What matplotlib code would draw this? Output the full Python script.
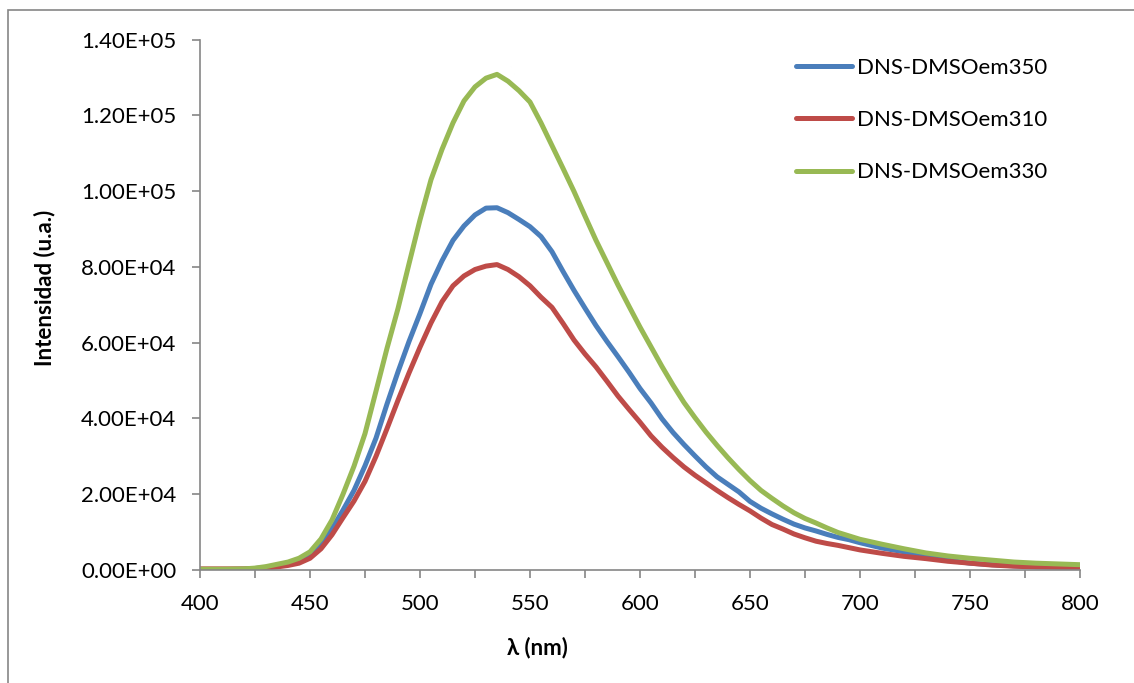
import matplotlib
matplotlib.use("Agg")
import matplotlib.pyplot as plt
from matplotlib.ticker import FuncFormatter, MultipleLocator
from matplotlib.patches import Rectangle

plt.rcParams['font.family'] = ['Lato', 'DejaVu Sans']

# wavelength (nm) and intensity readings (x1000 u.a.)
wl = [400, 410, 420, 425, 430, 435, 440, 445, 450, 455, 460, 465, 470, 475, 480,
      485, 490, 495, 500, 505, 510, 515, 520, 525, 530, 535, 540, 545, 550, 555,
      560, 565, 570, 575, 580, 585, 590, 595, 600, 605, 610, 615, 620, 625, 630,
      635, 640, 645, 650, 655, 660, 665, 670, 675, 680, 685, 690, 695, 700,
      710, 720, 730, 740, 750, 760, 770, 780, 790, 800]

em350 = [0.1, 0.1, 0.2, 0.4, 0.7, 1.2, 1.7, 2.5, 3.8, 6.8, 10.9, 15.8, 21.0, 27.5, 34.8,
         43.8, 52.3, 60.3, 67.7, 75.4, 81.6, 87.0, 90.8, 93.7, 95.5, 95.6, 94.3, 92.5, 90.6, 88.0,
         84.0, 78.8, 73.8, 69.1, 64.5, 60.3, 56.3, 52.2, 47.9, 44.1, 39.9, 36.3, 33.1, 30.1, 27.2,
         24.6, 22.6, 20.6, 18.1, 16.3, 14.8, 13.4, 12.1, 11.1, 10.3, 9.4, 8.6, 8.0, 7.2,
         5.8, 4.8, 3.6, 2.6, 1.8, 1.4, 1.1, 0.9, 0.8, 0.8]

em310 = [0.3, 0.3, 0.3, 0.3, 0.5, 0.8, 1.2, 1.8, 3.1, 5.6, 9.3, 13.8, 18.2, 23.4, 30.0,
         37.3, 44.8, 52.0, 58.8, 65.2, 70.8, 75.0, 77.6, 79.3, 80.2, 80.6, 79.3, 77.4, 75.0, 72.0,
         69.3, 65.1, 60.7, 57.0, 53.6, 49.8, 45.9, 42.4, 39.0, 35.4, 32.4, 29.7, 27.2, 25.0, 23.0,
         21.0, 19.1, 17.3, 15.6, 13.7, 12.0, 10.8, 9.5, 8.5, 7.6, 7.0, 6.5, 5.9, 5.3,
         4.4, 3.6, 3.0, 2.3, 1.8, 1.3, 1.0, 0.8, 0.7, 0.6]

em330 = [0.2, 0.2, 0.3, 0.5, 0.9, 1.5, 2.1, 3.1, 4.8, 8.2, 13.2, 20.0, 27.4, 36.0, 47.2,
         58.5, 69.0, 80.8, 92.4, 103.0, 111.0, 118.0, 123.8, 127.5, 129.8, 130.8, 129.0, 126.5, 123.5, 118.0,
         112.0, 106.0, 99.9, 93.4, 87.0, 81.1, 75.2, 69.6, 64.1, 58.9, 53.7, 48.8, 44.2, 40.2, 36.4,
         32.9, 29.6, 26.5, 23.6, 21.0, 18.9, 16.9, 15.1, 13.6, 12.4, 11.1, 9.9, 9.0, 8.1,
         6.8, 5.6, 4.5, 3.7, 3.1, 2.6, 2.1, 1.8, 1.6, 1.4]

series = [("DNS-DMSOem350", em350, "#4A7EBB"),
          ("DNS-DMSOem310", em310, "#BE4B48"),
          ("DNS-DMSOem330", em330, "#98B954")]

fs = 16

fig = plt.figure(figsize=(11.34, 6.83), dpi=100)
ax = fig.add_axes([200/1134, 1-570/683, 880/1134, 530.5/683])

for name, vals, col in series:
    ax.plot(wl, [v*1000 for v in vals], color=col, lw=3.6, label=name,
            solid_capstyle='round', solid_joinstyle='round')

ax.set_xlim(400, 800)
ax.set_ylim(0, 140000)
ax.xaxis.set_major_locator(MultipleLocator(50))
ax.xaxis.set_minor_locator(MultipleLocator(25))
ax.yaxis.set_major_locator(MultipleLocator(20000))
ax.yaxis.set_major_formatter(FuncFormatter(lambda v, p: f"{v:.2E}"))

for s in ['top', 'right']:
    ax.spines[s].set_visible(False)
for s in ['left', 'bottom']:
    ax.spines[s].set_color('#868686')
    ax.spines[s].set_linewidth(1.2)
ax.tick_params(axis='both', which='both', direction='out', color='#868686',
               length=6, width=1.2, labelsize=fs)
ax.tick_params(axis='y', pad=11)
ax.tick_params(axis='x', pad=11)

fig.text(537/1134, 1-648/683, "λ (nm)", ha='center', va='center',
         fontsize=fs, fontweight='bold')
fig.text(45/1134, 1-288/683, "Intensidad (u.a.)", ha='center', va='center',
         rotation=90, fontsize=fs, fontweight='bold')

ax.legend(loc='upper left', bbox_to_anchor=(776/1134, 1-38/683),
          bbox_transform=fig.transFigure, frameon=False, fontsize=fs,
          handlelength=2.5, handletextpad=0.25, labelspacing=1.45)

fig.patches.append(Rectangle((8/1134, -0.1), 1.2, 1.1 - 10/683,
                             transform=fig.transFigure, fill=False,
                             edgecolor='#868686', lw=1.2))

fig.savefig("out.png", dpi=100)
